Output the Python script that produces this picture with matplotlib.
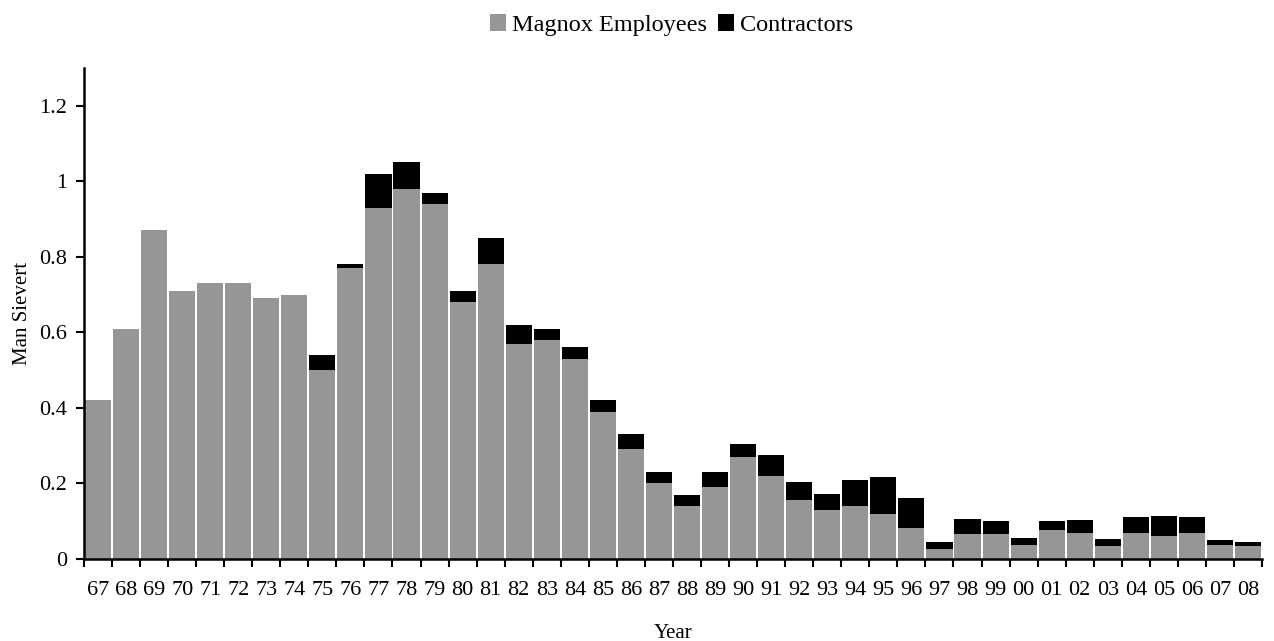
import matplotlib
matplotlib.use("Agg")
import matplotlib.pyplot as plt
import numpy as np

GREY = "#969696"
BLACK = "#000000"

plt.rcParams.update({
    "font.family": ["Liberation Serif", "DejaVu Serif"],
    "font.size": 16,
})

years = ["67", "68", "69", "70", "71", "72", "73", "74", "75", "76", "77",
         "78", "79", "80", "81", "82", "83", "84", "85", "86", "87", "88",
         "89", "90", "91", "92", "93", "94", "95", "96", "97", "98", "99",
         "00", "01", "02", "03", "04", "05", "06", "07", "08"]
magnox = [0.42, 0.61, 0.87, 0.71, 0.73, 0.73, 0.69, 0.70, 0.50, 0.77, 0.93,
          0.98, 0.94, 0.68, 0.78, 0.57, 0.58, 0.53, 0.39, 0.29, 0.20, 0.14,
          0.19, 0.27, 0.22, 0.155, 0.13, 0.14, 0.12, 0.083, 0.026, 0.066, 0.066,
          0.037, 0.076, 0.07, 0.035, 0.07, 0.061, 0.068, 0.037, 0.033]
contractors = [0, 0, 0, 0, 0, 0, 0, 0, 0.04, 0.01, 0.09,
               0.07, 0.03, 0.03, 0.07, 0.05, 0.03, 0.03, 0.03, 0.04, 0.03, 0.03,
               0.04, 0.035, 0.055, 0.048, 0.042, 0.068, 0.097, 0.079, 0.018, 0.04, 0.034,
               0.019, 0.024, 0.032, 0.019, 0.041, 0.054, 0.042, 0.013, 0.011]

x = np.arange(len(years))
fig = plt.figure(figsize=(12.74, 6.41), dpi=100)
ax = fig.add_axes([0.0659, 0.128, 0.9247, 0.766])

ax.bar(x, magnox, 0.93, color=GREY, edgecolor="none", label="Magnox Employees")
ax.bar(x, contractors, 0.93, bottom=magnox, color=BLACK, edgecolor="none",
       label="Contractors")

ax.set_xlim(-0.5, len(years) - 0.5)
ax.set_ylim(0, 1.3)
ax.set_yticks([0, 0.2, 0.4, 0.6, 0.8, 1.0, 1.2])
ax.set_yticklabels(["0", "0.2", "0.4", "0.6", "0.8", "1", "1.2"])

# labels at bar centres, tick marks at bar boundaries
ax.set_xticks(x)
ax.set_xticklabels(years)
ax.set_xticks(np.arange(len(years) + 1) - 0.5, minor=True)
ax.tick_params(axis="x", which="major", length=0, pad=16)
ax.tick_params(axis="x", which="minor", length=6, width=1.5, direction="out")
ax.tick_params(axis="y", length=6, width=1.5, direction="out", pad=6)

for s in ("top", "right"):
    ax.spines[s].set_visible(False)
ax.spines["left"].set_linewidth(1.8)
ax.spines["bottom"].set_linewidth(1.8)

ax.set_xlabel("Year", fontsize=15, labelpad=17)
ax.set_ylabel("Man Sievert", fontsize=15, labelpad=5)

fig.legend(loc="upper center", bbox_to_anchor=(0.527, 1.012), ncol=2,
           frameon=False, fontsize=17.5, handlelength=0.66, handleheight=0.66,
           handletextpad=0.25, columnspacing=0.45)

fig.savefig("out.png", dpi=100)
